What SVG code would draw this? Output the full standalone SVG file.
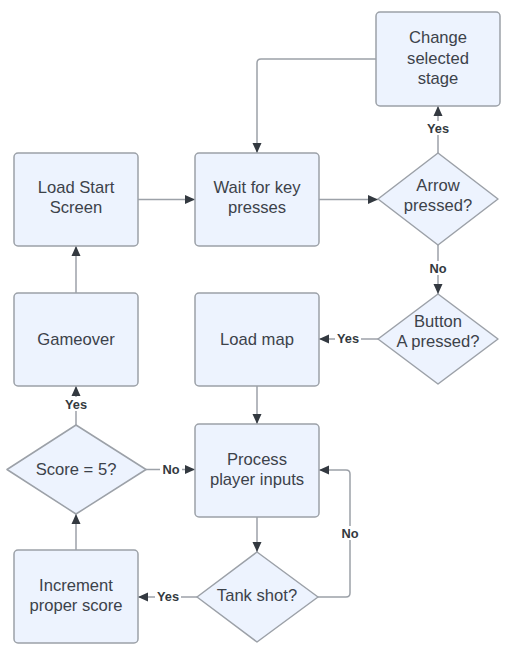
<svg xmlns="http://www.w3.org/2000/svg" width="513" height="658" viewBox="0 0 513 658">
<style>
.box{fill:#edf3fe;stroke:#9ca1a8;stroke-width:1.5}
.dia{fill:#edf3fe;stroke:#9ca1a8;stroke-width:1.5;stroke-linejoin:round}
.t{font-family:"Liberation Sans",Arial,sans-serif;font-size:16.6px;fill:#3c424a;text-anchor:middle}
.c{fill:none;stroke:#9ca1a8;stroke-width:1.5}
.lb{fill:#ffffff}
.lt{font-family:"Liberation Sans",Arial,sans-serif;font-size:12.8px;font-weight:bold;fill:#333940;text-anchor:middle}
</style>
<defs>
<marker id="ah" markerUnits="userSpaceOnUse" markerWidth="10" markerHeight="10" refX="10" refY="5" orient="auto">
<path d="M0,0.5 L10,5 L0,9.5 z" fill="#333940"/>
</marker>
</defs>
<rect width="513" height="658" fill="#ffffff"/>
<g id="connectors">
<path class="c" d="M138,199.5 H195" marker-end="url(#ah)"/>
<path class="c" d="M319,199.5 H378" marker-end="url(#ah)"/>
<path class="c" d="M438,153 V106" marker-end="url(#ah)"/>
<path class="c" d="M376,59 H261 Q257,59 257,63 V153" marker-end="url(#ah)"/>
<path class="c" d="M438,245 V294" marker-end="url(#ah)"/>
<path class="c" d="M378,339 H319" marker-end="url(#ah)"/>
<path class="c" d="M257,386 V424" marker-end="url(#ah)"/>
<path class="c" d="M257,517 V552" marker-end="url(#ah)"/>
<path class="c" d="M197,597 H138" marker-end="url(#ah)"/>
<path class="c" d="M318,597 H346 Q350,597 350,593 V474 Q350,470 346,470 H319" marker-end="url(#ah)"/>
<path class="c" d="M76,550 V514" marker-end="url(#ah)"/>
<path class="c" d="M146,469.5 H195" marker-end="url(#ah)"/>
<path class="c" d="M76,425 V386" marker-end="url(#ah)"/>
<path class="c" d="M76,293 V246" marker-end="url(#ah)"/>
<rect class="lb" x="425" y="121" width="26" height="14"/>
<text class="lt" x="438" y="132.5">Yes</text>
<rect class="lb" x="427" y="261" width="22" height="14"/>
<text class="lt" x="438" y="272.5">No</text>
<rect class="lb" x="335" y="332" width="26" height="14"/>
<text class="lt" x="348" y="343">Yes</text>
<rect class="lb" x="63" y="397" width="26" height="14"/>
<text class="lt" x="76" y="408.5">Yes</text>
<rect class="lb" x="160" y="462" width="22" height="14"/>
<text class="lt" x="171" y="473.5">No</text>
<rect class="lb" x="155" y="589" width="26" height="14"/>
<text class="lt" x="168" y="600.5">Yes</text>
<rect class="lb" x="339" y="526" width="22" height="14"/>
<text class="lt" x="350" y="537.5">No</text>
</g>
<g id="change-stage">
<rect class="box" x="376" y="12" width="124" height="94" rx="4"/>
<text class="t" x="438" y="43">Change</text>
<text class="t" x="438" y="63.5">selected</text>
<text class="t" x="438" y="84">stage</text>
</g>
<g id="load-start">
<rect class="box" x="14" y="153" width="124" height="93" rx="4"/>
<text class="t" x="76" y="193">Load Start</text>
<text class="t" x="76" y="213">Screen</text>
</g>
<g id="wait-keys">
<rect class="box" x="195" y="153" width="124" height="93" rx="4"/>
<text class="t" x="257" y="193">Wait for key</text>
<text class="t" x="257" y="213">presses</text>
</g>
<g id="arrow-pressed">
<polygon class="dia" points="438,153 498,199 438,245 378,199"/>
<text class="t" x="438" y="191">Arrow</text>
<text class="t" x="438" y="211">pressed?</text>
</g>
<g id="gameover">
<rect class="box" x="14" y="293" width="124" height="93" rx="4"/>
<text class="t" x="76" y="344.5">Gameover</text>
</g>
<g id="load-map">
<rect class="box" x="195" y="293" width="124" height="93" rx="4"/>
<text class="t" x="257" y="344.5">Load map</text>
</g>
<g id="button-a">
<polygon class="dia" points="438,294 498,339 438,384 378,339"/>
<text class="t" x="438" y="327">Button</text>
<text class="t" x="438" y="347">A pressed?</text>
</g>
<g id="score">
<polygon class="dia" points="76,425 146,469.5 76,514 7,469.5"/>
<text class="t" x="76" y="475">Score = 5?</text>
</g>
<g id="process">
<rect class="box" x="195" y="424" width="124" height="93" rx="4"/>
<text class="t" x="257" y="465">Process</text>
<text class="t" x="257" y="485">player inputs</text>
</g>
<g id="increment">
<rect class="box" x="14" y="550" width="124" height="93" rx="4"/>
<text class="t" x="76" y="591">Increment</text>
<text class="t" x="76" y="611">proper score</text>
</g>
<g id="tank-shot">
<polygon class="dia" points="257,552 318,597 257,642 197,597"/>
<text class="t" x="257" y="601">Tank shot?</text>
</g>
</svg>
